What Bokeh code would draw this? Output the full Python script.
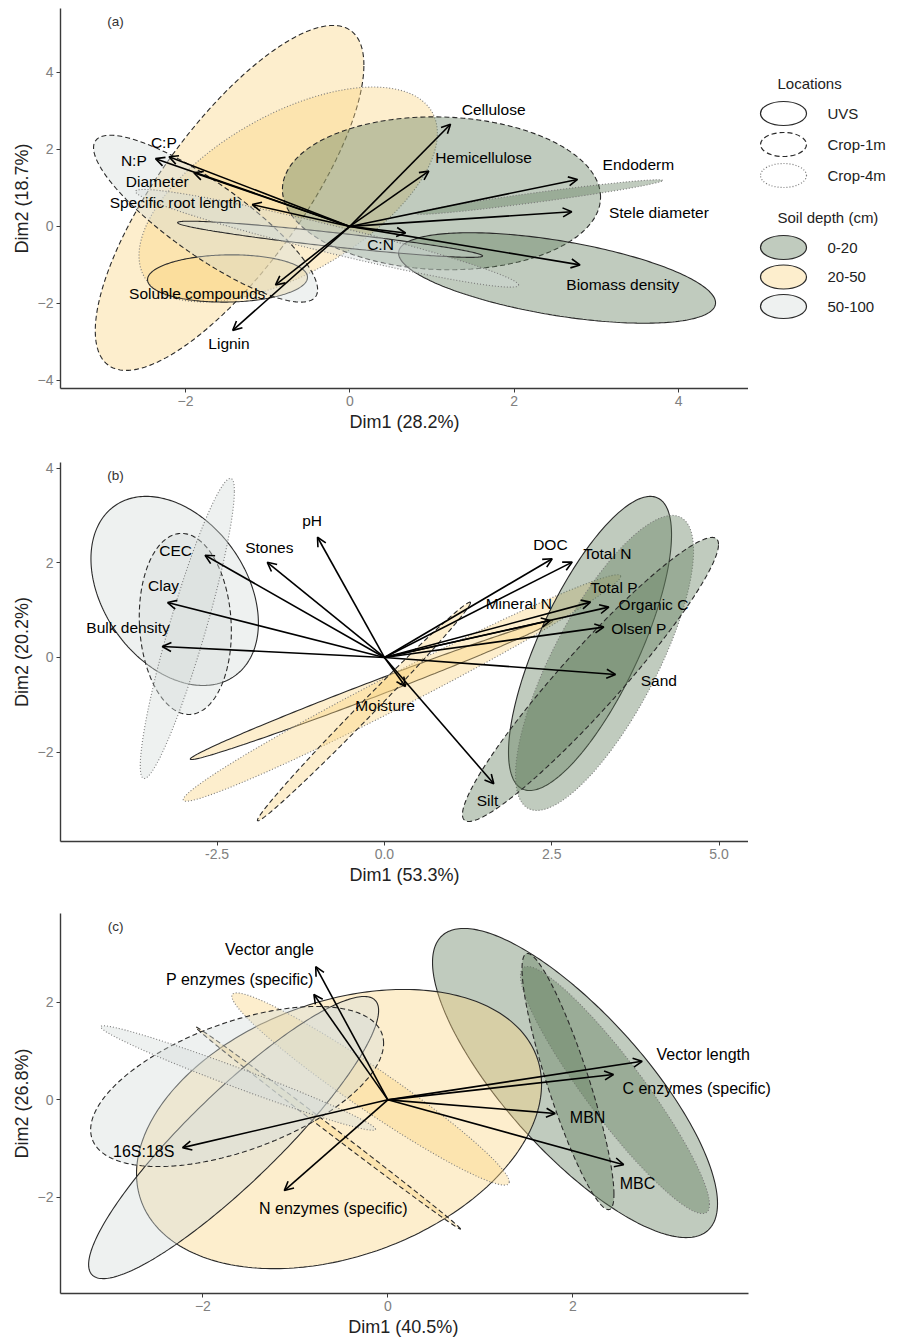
import numpy as np
from bokeh.plotting import figure
from bokeh.models import (Range1d, FixedTicker, ColumnDataSource, Arrow, OpenHead, LabelSet,
                          NumeralTickFormatter, Title)
from bokeh.layouts import column, row
from bokeh.embed import file_html
from bokeh.resources import INLINE
from bokeh.core.properties import value

FONT = "Liberation Sans"

LOCATIONS = ["UVS", "Crop-1m", "Crop-4m"]
DEPTHS = ["0-20", "20-50", "50-100"]
DEPTH_FILL = ["#627e5c", "#fad582", "#d4dcd9"]
FILL_ALPHA = 0.4
LOC_DASH = ["solid", "5 3", "1 2"]
LOC_LINE = ["#2a2a2a", "#2a2a2a", "#7a7a7a"]

# ---------------- panel (a): root traits ----------------
a_xlabel = "Dim1 (28.2%)"
a_ylabel = "Dim2 (18.7%)"
a_xticks = [-2, 0, 2, 4]
a_yticks = [-4, -2, 0, 2, 4]
a_ell_loc = ["Crop-1m", "Crop-4m", "UVS", "Crop-1m", "UVS", "Crop-4m", "Crop-1m", "UVS", "Crop-4m"]
a_ell_depth = ["20-50", "20-50", "20-50", "0-20", "0-20", "0-20", "50-100", "50-100", "50-100"]
a_ell_cx = [-1.463, -0.750, -1.488, 1.115, 2.521, 2.302, -1.755, -0.240, -0.277]
a_ell_cy = [0.740, 0.830, -1.352, 0.860, -1.339, 0.762, 0.201, -0.334, -0.308]
a_ell_w = [1.634, 1.815, 0.973, 1.935, 1.928, 1.502, 1.363, 1.855, 2.330]
a_ell_h = [4.480, 2.790, 0.614, 1.985, 1.175, 0.449, 2.167, 0.470, 1.269]
a_ell_rho = [0.77, 0.57, 0.05, -0.05, -0.55, 0.96, -0.85, -0.92, -0.957]
a_vars = ["Cellulose", "Hemicellulose", "Endoderm", "Stele diameter", "Biomass density", "C:N",
          "Lignin", "Soluble compounds", "Specific root length", "Diameter", "N:P", "C:P"]
a_vx = [1.225, 0.961, 2.77, 2.70, 2.80, 0.678, -1.425, -0.904, -1.187, -1.898, -2.364, -2.20]
a_vy = [2.655, 1.436, 1.22, 0.38, -1.00, -0.172, -2.70, -1.52, 0.567, 1.394, 1.76, 1.81]
a_lx = [1.75, 1.627, 3.51, 3.76, 3.32, 0.373, -1.47, -1.857, -2.12, -2.343, -2.628, -2.263]
a_ly = [3.04, 1.794, 1.61, 0.35, -1.52, -0.478, -3.04, -1.74, 0.61, 1.175, 1.72, 2.19]

# ---------------- panel (b): soil properties ----------------
b_xlabel = "Dim1 (53.3%)"
b_ylabel = "Dim2 (20.2%)"
b_xticks = [-2.5, 0.0, 2.5, 5.0]
b_yticks = [-2, 0, 2, 4]
b_ell_loc = ["UVS", "Crop-1m", "Crop-4m", "UVS", "Crop-4m", "Crop-1m", "UVS", "Crop-4m", "Crop-1m"]
b_ell_depth = ["50-100"] * 3 + ["20-50"] * 3 + ["0-20"] * 3
b_ell_cx = [-3.134, -2.975, -2.945, -0.194, 0.262, -0.306, 3.072, 3.289, 3.079]
b_ell_cy = [1.406, 0.708, 0.613, -0.687, -0.645, -1.142, 0.296, -0.116, -0.465]
b_ell_w = [1.251, 0.688, 0.703, 2.707, 3.268, 1.592, 1.218, 1.330, 1.913]
b_ell_h = [1.998, 1.913, 3.171, 1.471, 2.393, 2.311, 3.108, 3.118, 3.002]
b_ell_rho = [-0.34, -0.08, 0.915, 0.993, 0.986, 0.995, 0.74, 0.76, 0.95]
b_vars = ["pH", "Stones", "CEC", "Clay", "Bulk density", "Moisture", "Silt", "Sand",
          "Olsen P", "Organic C", "Total P", "Mineral N", "DOC", "Total N"]
b_vx = [-1.00, -1.75, -2.68, -3.24, -3.32, 0.314, 1.634, 3.453, 3.278, 3.353, 3.079, 2.481, 2.507, 2.806]
b_vy = [2.54, 2.01, 2.16, 1.16, 0.23, -0.613, -2.67, -0.359, 0.641, 1.063, 1.169, 0.782, 2.087, 2.015]
b_lx = [-1.08, -1.72, -3.12, -3.30, -3.83, 0.01, 1.54, 4.10, 3.80, 4.02, 3.428, 2.008, 2.48, 3.33]
b_ly = [2.90, 2.33, 2.26, 1.52, 0.63, -1.01, -3.02, -0.49, 0.61, 1.12, 1.486, 1.148, 2.39, 2.20]

# ---------------- panel (c): microbial properties ----------------
c_xlabel = "Dim1 (40.5%)"
c_ylabel = "Dim2 (26.8%)"
c_xticks = [-2, 0, 2]
c_yticks = [-2, 0, 2]
c_ell_loc = ["UVS", "Crop-4m", "Crop-1m", "UVS", "Crop-4m", "Crop-1m", "UVS", "Crop-1m", "Crop-4m"]
c_ell_depth = ["0-20"] * 3 + ["20-50"] * 3 + ["50-100"] * 3
c_ell_cx = [2.024, 2.456, 1.948, -0.528, -0.187, -0.646, -1.668, -1.630, -1.619]
c_ell_cy = [0.345, 0.201, 0.375, -0.599, 0.222, -0.578, -0.773, 0.273, 0.447]
c_ell_w = [1.541, 1.022, 0.497, 2.190, 1.500, 1.432, 1.568, 1.584, 1.486]
c_ell_h = [3.169, 2.533, 2.626, 2.862, 1.970, 2.072, 2.892, 1.641, 1.071]
c_ell_rho = [-0.78, -0.925, -0.88, 0.32, -0.965, -0.999, 0.90, 0.54, -0.98]
c_vars = ["Vector angle", "P enzymes (specific)", "16S:18S", "N enzymes (specific)",
          "Vector length", "C enzymes (specific)", "MBN", "MBC"]
c_vx = [-0.78, -0.80, -2.22, -1.12, 2.75, 2.44, 1.81, 2.55]
c_vy = [2.73, 2.16, -0.98, -1.86, 0.79, 0.52, -0.28, -1.33]
c_lx = [-1.28, -1.60, -2.64, -0.59, 3.41, 3.34, 2.16, 2.70]
c_ly = [3.08, 2.47, -1.06, -2.23, 0.93, 0.23, -0.36, -1.72]


def ellipse_xy(cx, cy, w, h, rho, n=260):
    t = np.linspace(0, 2 * np.pi, n)
    x = cx + w * np.cos(t)
    y = cy + h * (rho * np.cos(t) + np.sqrt(max(1 - rho ** 2, 0.0)) * np.sin(t))
    return x, y


AXIS_PX = 688  # drawn axis length in pixels
XLAB_SIZE = 18


def make_panel(tag, xr, yr, xticks, yticks, xlabel, ylabel,
               eloc, edepth, ecx, ecy, ew, eh, erho,
               names, vx, vy, lx, ly, fsize, fh, top, bottom, xfmt=None, extra=0):
    # extra: additional frame width (px) right of the drawn axis, so long labels are not clipped
    scale = (xr[1] - xr[0]) / AXIS_PX
    xend = xr[1] + extra * scale
    p = figure(frame_width=AXIS_PX + extra, frame_height=fh,
               x_range=Range1d(xr[0], xend), y_range=Range1d(*yr),
               output_backend="svg", toolbar_location=None,
               min_border_left=60, min_border_right=0, min_border_top=top, min_border_bottom=bottom)
    p.xgrid.visible = False
    p.ygrid.visible = False
    p.outline_line_color = None
    p.background_fill_color = "white"
    p.border_fill_color = "white"
    p.xaxis.ticker = FixedTicker(ticks=xticks)
    p.yaxis.ticker = FixedTicker(ticks=yticks)
    p.xaxis.bounds = (xr[0], xr[1])
    if xfmt:
        p.xaxis.formatter = NumeralTickFormatter(format=xfmt)
    p.yaxis.axis_label = ylabel
    for ax in (p.xaxis[0], p.yaxis[0]):
        ax.axis_line_color = "#3a3a3a"
        ax.axis_line_width = 1.4
        ax.major_tick_line_color = "#3a3a3a"
        ax.major_tick_out = 4
        ax.major_tick_in = 0
        ax.minor_tick_line_color = None
        ax.major_label_text_color = "#808080"
        ax.major_label_text_font = FONT
        ax.major_label_text_font_size = "14px"
        ax.major_label_standoff = 3
        ax.axis_label_text_font = FONT
        ax.axis_label_text_font_style = "normal"
        ax.axis_label_text_font_size = "%dpx" % XLAB_SIZE
        ax.axis_label_text_color = "#222222"
        ax.axis_label_standoff = 3
    if extra == 0:
        p.xaxis.axis_label = xlabel
    else:
        # centre the x label under the drawn axis (not under the widened frame)
        est_w = 0.52 * XLAB_SIZE * len(xlabel)
        p.add_layout(Title(text=xlabel, align="left", offset=AXIS_PX / 2 - est_w / 2,
                           text_font=FONT, text_font_size="%dpx" % XLAB_SIZE,
                           text_font_style="normal", text_color="#222222", standoff=2), "below")

    for i in range(len(ecx)):
        li = LOCATIONS.index(eloc[i])
        di = DEPTHS.index(edepth[i])
        x, y = ellipse_xy(ecx[i], ecy[i], ew[i], eh[i], erho[i])
        p.patch(x, y, fill_color=DEPTH_FILL[di], fill_alpha=FILL_ALPHA,
                line_color=LOC_LINE[li], line_dash=LOC_DASH[li], line_width=1.1)

    src = ColumnDataSource(dict(x0=[0.0] * len(vx), y0=[0.0] * len(vx), x1=vx, y1=vy))
    p.add_layout(Arrow(end=OpenHead(size=9, line_width=1.6, line_color="black"),
                       x_start="x0", y_start="y0", x_end="x1", y_end="y1", source=src,
                       line_width=1.6, line_color="black"))
    lsrc = ColumnDataSource(dict(x=lx, y=ly, text=names))
    p.add_layout(LabelSet(x="x", y="y", text="text", source=lsrc, text_align="center",
                          text_baseline="middle", text_font=value(FONT),
                          text_font_size=value(fsize), text_color="black"))
    p.text(x=[xr[0] + 0.08 * (xr[1] - xr[0])], y=[yr[1] - 0.035 * (yr[1] - yr[0])], text=[tag],
           text_font=value(FONT), text_font_size="13.5px", text_color="#333333",
           text_align="center", text_baseline="middle")
    return p


pa = make_panel("(a)", (-3.52, 4.85), (-4.21, 5.66), a_xticks, a_yticks, a_xlabel, a_ylabel,
                a_ell_loc, a_ell_depth, a_ell_cx, a_ell_cy, a_ell_w, a_ell_h, a_ell_rho,
                a_vars, a_vx, a_vy, a_lx, a_ly, "15.5px", 380, 8, 46)
pb = make_panel("(b)", (-4.84, 5.44), (-3.89, 4.12), b_xticks, b_yticks, b_xlabel, b_ylabel,
                b_ell_loc, b_ell_depth, b_ell_cx, b_ell_cy, b_ell_w, b_ell_h, b_ell_rho,
                b_vars, b_vx, b_vy, b_lx, b_ly, "15.5px", 379, 28, 45, xfmt="0.0")
pc = make_panel("(c)", (-3.54, 3.90), (-3.97, 3.82), c_xticks, c_yticks, c_xlabel, c_ylabel,
                c_ell_loc, c_ell_depth, c_ell_cx, c_ell_cy, c_ell_w, c_ell_h, c_ell_rho,
                c_vars, c_vx, c_vy, c_lx, c_ly, "16px", 380, 26, 46, extra=52)

# ---------------- legend (drawn in pixel units) ----------------
LW, LH = 154, 434
lg = figure(frame_width=LW, frame_height=LH, x_range=Range1d(0, LW), y_range=Range1d(LH, 0),
            output_backend="svg", toolbar_location=None, min_border=0,
            x_axis_location=None, y_axis_location=None)
lg.xgrid.visible = False
lg.ygrid.visible = False
lg.outline_line_color = None
lg.text(x=[29, 29], y=[75, 209], text=["Locations", "Soil depth (cm)"],
        text_font=value(FONT), text_font_size="15px", text_color="#222222",
        text_align="left", text_baseline="middle")
for i, loc in enumerate(LOCATIONS):
    yy = 105 + 31 * i
    lg.ellipse(x=[35], y=[yy], width=46, height=24, fill_color="white",
               line_color=LOC_LINE[i], line_dash=LOC_DASH[i], line_width=1.2)
    lg.text(x=[79], y=[yy], text=[loc], text_font=value(FONT), text_font_size="15px",
            text_color="#222222", text_align="left", text_baseline="middle")
for i, dep in enumerate(DEPTHS):
    yy = 239 + 29.5 * i
    lg.ellipse(x=[35], y=[yy], width=46, height=24, fill_color=DEPTH_FILL[i], fill_alpha=FILL_ALPHA,
               line_color="#2a2a2a", line_width=1.2)
    lg.text(x=[79], y=[yy], text=[dep], text_font=value(FONT), text_font_size="15px",
            text_color="#222222", text_align="left", text_baseline="middle")

layout = column(row(pa, lg), pb, pc)
open("out.html", "w").write(file_html(layout, INLINE))
